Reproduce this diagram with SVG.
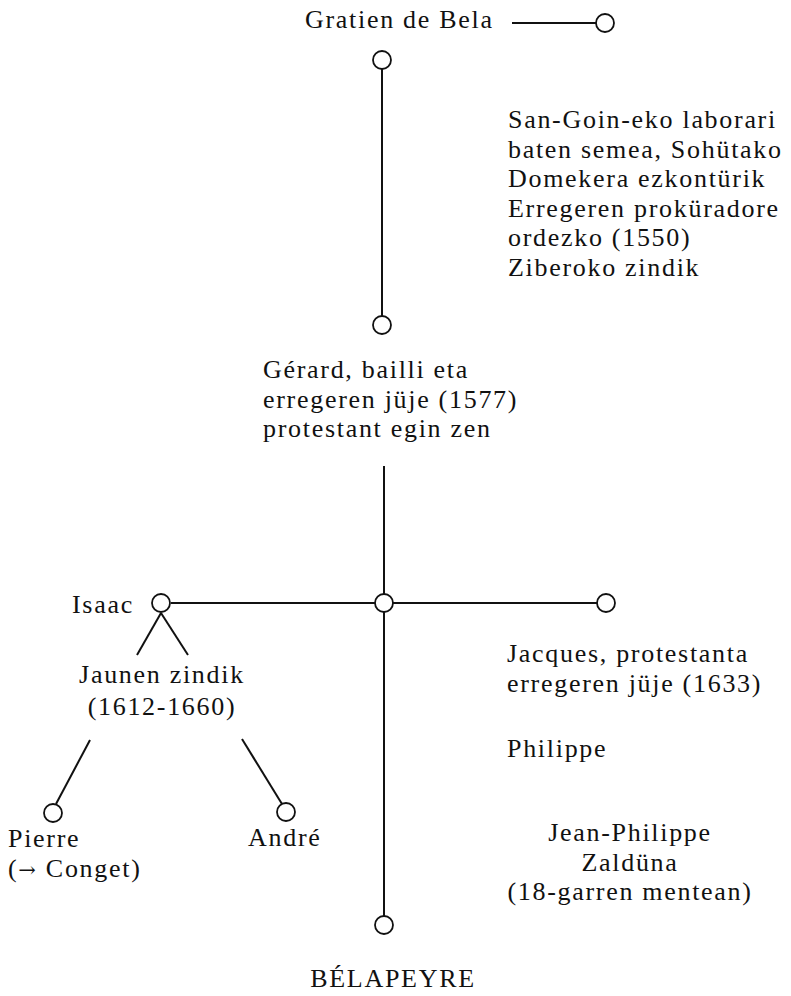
<svg xmlns="http://www.w3.org/2000/svg" width="791" height="996" viewBox="0 0 791 996">
<style>
text{font-family:"Liberation Serif","Times New Roman",serif;font-size:26px;letter-spacing:1.7px;fill:#111}
.c{fill:#fff;stroke:#111;stroke-width:1.8}
.l{stroke:#111;stroke-width:2;fill:none}
.m{text-anchor:middle}
.ar{font-family:"DejaVu Serif",serif;font-size:21px}
</style>
<rect width="791" height="996" fill="#fff"/>
<g id="connectors">
<line class="l" x1="512" y1="23" x2="596" y2="23"/>
<line class="l" x1="382" y1="69" x2="382" y2="316"/>
<line class="l" x1="384" y1="466" x2="384" y2="594"/>
<line class="l" x1="384" y1="612" x2="384" y2="916"/>
<line class="l" x1="171" y1="603" x2="375" y2="603"/>
<line class="l" x1="393" y1="603" x2="597" y2="603"/>
<line class="l" x1="161" y1="613" x2="137" y2="655"/>
<line class="l" x1="161" y1="613" x2="188" y2="655"/>
<line class="l" x1="90" y1="740" x2="56" y2="804"/>
<line class="l" x1="242" y1="739" x2="282" y2="804"/>
</g>
<g id="gratien">
<text x="305" y="28">Gratien de Bela</text>
<circle class="c" cx="605" cy="23" r="9"/>
</g>
<g id="gratien-top">
<circle class="c" cx="382" cy="60" r="9"/>
</g>
<g id="gratien-note">
<text x="508" y="128">San-Goin-eko laborari</text>
<text x="508" y="157.5">baten semea, Sohütako</text>
<text x="508" y="187">Domekera ezkontürik</text>
<text x="508" y="216.5">Erregeren proküradore</text>
<text x="508" y="246">ordezko (1550)</text>
<text x="508" y="275.5">Ziberoko zindik</text>
</g>
<g id="gerard">
<circle class="c" cx="382" cy="325" r="9"/>
<text x="263" y="378">Gérard, bailli eta</text>
<text x="263" y="407.5">erregeren jüje (1577)</text>
<text x="263" y="437">protestant egin zen</text>
</g>
<g id="center">
<circle class="c" cx="384" cy="603" r="9"/>
</g>
<g id="isaac">
<circle class="c" cx="161" cy="603" r="9"/>
<text x="72" y="613">Isaac</text>
<text class="m" x="162" y="683">Jaunen zindik</text>
<text class="m" x="162" y="715">(1612-1660)</text>
</g>
<g id="pierre">
<circle class="c" cx="53" cy="813" r="9"/>
<text x="8" y="847">Pierre</text>
<text x="8" y="877">(<tspan class="ar">→</tspan> Conget)</text>
</g>
<g id="andre">
<circle class="c" cx="286" cy="812" r="9"/>
<text x="248" y="846">André</text>
</g>
<g id="jacques">
<circle class="c" cx="606" cy="603" r="9"/>
<text x="507" y="662">Jacques, protestanta</text>
<text x="507" y="692">erregeren jüje (1633)</text>
</g>
<g id="philippe">
<text x="507" y="757">Philippe</text>
</g>
<g id="jean-philippe">
<text class="m" x="630" y="841">Jean-Philippe</text>
<text class="m" x="630" y="870.5">Zaldüna</text>
<text class="m" x="630" y="900">(18-garren mentean)</text>
</g>
<g id="belapeyre">
<circle class="c" cx="384" cy="925" r="9"/>
<text class="m" x="393" y="987">BÉLAPEYRE</text>
</g>
</svg>
